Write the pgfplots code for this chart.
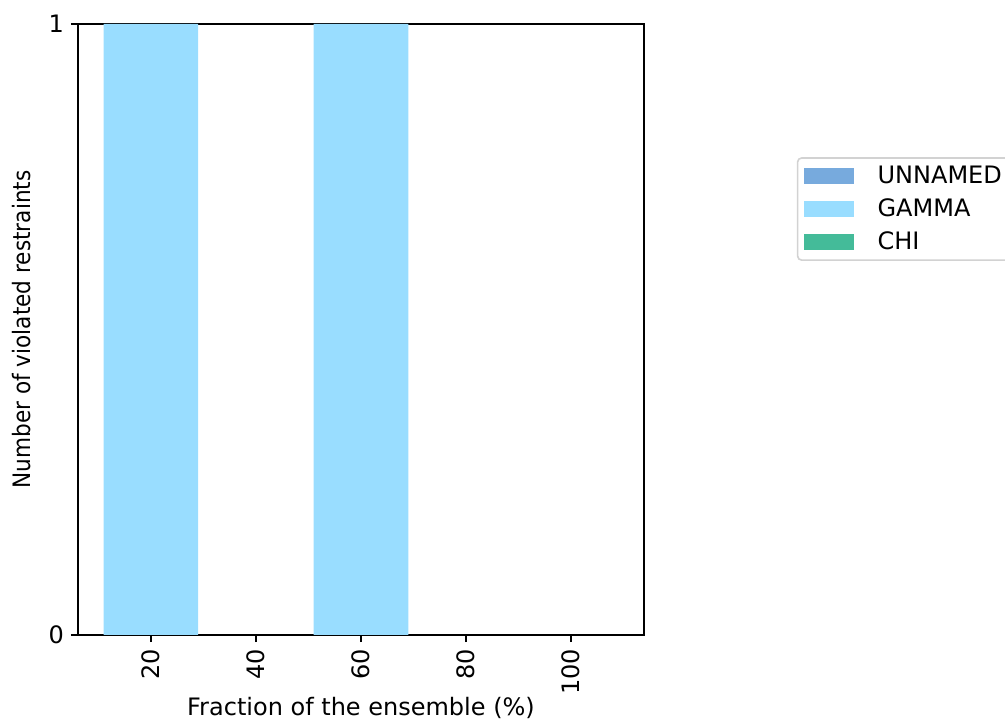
\documentclass[border=0pt]{standalone}
\usepackage{fontspec}
\setmainfont{DejaVu Sans}
\usepackage{pgfplots}
\pgfplotsset{compat=1.18}
\definecolor{cUnnamed}{HTML}{77AADD}
\definecolor{cGamma}{HTML}{99DDFF}
\definecolor{cChi}{HTML}{44BB99}
\begin{document}
\begin{tikzpicture}
\begin{axis}[
  at={(0pt,0pt)}, anchor=south west,
  scale only axis,
  width=283pt, height=305.5pt,
  xmin=6.1, xmax=113.9,
  ymin=0, ymax=1,
  ybar stacked, bar width=18,
  xtick={20,40,60,80,100},
  ytick={0,1},
  tick align=outside,
  xtick pos=bottom, ytick pos=left,
  major tick length=3.5pt,
  tick style={black, line width=0.8pt},
  axis line style={line width=0.8pt},
  x tick label style={rotate=90, anchor=east},
  tick label style={font=\fontsize{12}{14}\selectfont},
  /pgf/number format/assume math mode=true,
  xlabel={Fraction of the ensemble (\%)},
  ylabel={\scalebox{0.9}[1]{Number of violated restraints}},
  label style={font=\fontsize{12}{14}\selectfont},
  xlabel style={yshift=5.5pt},
  ylabel style={yshift=2pt},
  legend style={at={(1.270,0.782)}, anchor=north west,
    draw=gray!35, line width=0.8pt, rounded corners=2pt,
    font=\fontsize{12}{14}\selectfont,
    inner xsep=3pt, inner ysep=2pt, row sep=2pt,
    cells={anchor=west}},
  legend image code/.code={\fill[#1, sharp corners] (0pt,-4pt) rectangle (25pt,4pt);},
  legend cell align=left,
  every legend entry/.append style={inner xsep=0pt},
  /tikz/every odd column/.append style={column sep=10pt},
]
\addplot[draw=none, fill=cUnnamed] coordinates {(20,0) (40,0) (60,0) (80,0) (100,0)};
\addlegendentry{UNNAMED}
\addplot[draw=none, fill=cGamma] coordinates {(20,1) (40,0) (60,1) (80,0) (100,0)};
\addlegendentry{GAMMA}
\addplot[draw=none, fill=cChi] coordinates {(20,0) (40,0) (60,0) (80,0) (100,0)};
\addlegendentry{CHI}
\end{axis}
\pgfresetboundingbox
\path[use as bounding box] (-39pt,-43pt) rectangle (463.5pt,317.5pt);
\end{tikzpicture}
\end{document}
